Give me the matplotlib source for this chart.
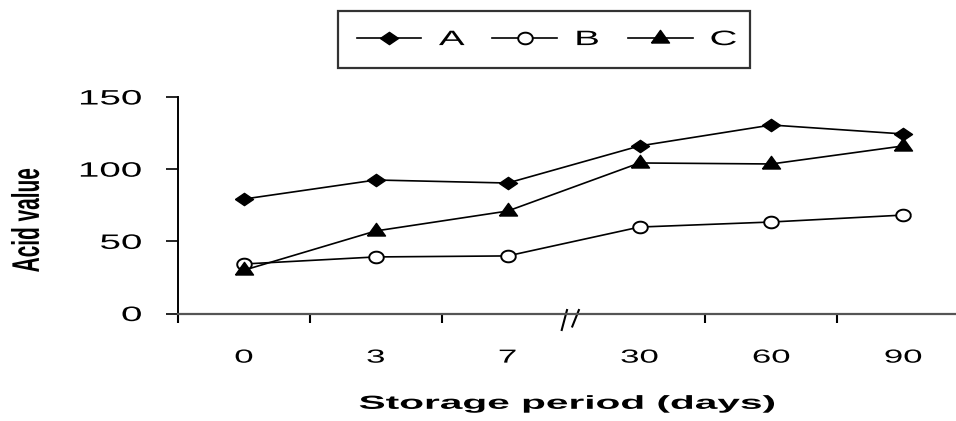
import numpy as np
import matplotlib.pyplot as plt
from matplotlib.lines import Line2D
from matplotlib.patheffects import AbstractPathEffect
from matplotlib.transforms import Affine2D

# ---------------------------------------------------------------------------
# Data
# ---------------------------------------------------------------------------
days = ['0', '3', '7', '30', '60', '90']
acid_A = [79.3, 92.5, 90.4, 116.1, 130.6, 124.4]
acid_B = [34.3, 39.2, 39.9, 59.9, 63.4, 68.2]
acid_C = [30.0, 57.2, 71.0, 104.3, 103.6, 116.1]

plt.rcParams['font.family'] = ['Liberation Sans', 'DejaVu Sans']


class Stretch(AbstractPathEffect):
    """Widen rendered text horizontally (the source image is stretched)."""

    def __init__(self, sx, anchor='center'):
        super().__init__()
        self.sx = sx
        self.anchor = anchor

    def draw_path(self, renderer, gc, tpath, affine, rgbFace=None):
        ext = tpath.get_extents(affine)
        cx = {'left': ext.x0, 'right': ext.x1,
              'center': 0.5 * (ext.x0 + ext.x1)}[self.anchor]
        a = affine + Affine2D().translate(-cx, 0).scale(self.sx, 1).translate(cx, 0)
        renderer.draw_path(gc, tpath, a, rgbFace)


# wide, flat markers to match the stretched look
m_diamond = [(-1, 0), (0, 0.68), (1, 0), (0, -0.68), (-1, 0)]
t = np.linspace(0, 2 * np.pi, 40)
m_ellipse = list(zip(np.cos(t), 0.8 * np.sin(t)))
m_triangle = [(-1, -0.5), (0, 0.9), (1, -0.5), (-1, -0.5)]

fig = plt.figure(figsize=(9.56, 4.21), dpi=100)
ax = fig.add_axes([0.18619, 0.2553, 0.81381, 0.5143])

x = np.arange(len(days))
ax.plot(x, acid_A, '-', color='black', lw=1.2, marker=m_diamond, ms=13,
        mfc='black', mec='black', label='A', clip_on=False, zorder=3)
ax.plot(x, acid_B, '-', color='black', lw=1.2, marker=m_ellipse, ms=10.5,
        mfc='white', mec='black', mew=1.4, label='B', clip_on=False, zorder=3)
ax.plot(x, acid_C, '-', color='black', lw=1.2, marker=m_triangle, ms=13,
        mfc='black', mec='black', label='C', clip_on=False, zorder=3)

ax.set_xlim(-0.5, 5.40)
ax.set_ylim(0, 150)

for s in ['top', 'right']:
    ax.spines[s].set_visible(False)
ax.spines['left'].set_color('black')
ax.spines['left'].set_linewidth(1.4)
ax.spines['bottom'].set_color('#555555')
ax.spines['bottom'].set_linewidth(1.6)

ax.set_yticks([0, 50, 100, 150])
ax.tick_params(axis='y', direction='out', length=9, width=1.2, labelsize=15,
               pad=17)
for lab in ax.get_yticklabels():
    lab.set_path_effects([Stretch(1.85, 'right')])

# category labels in the middle, tick marks on the boundaries (none at break)
ax.set_xticks(x)
ax.set_xticklabels(days)
ax.tick_params(axis='x', which='major', length=0, labelsize=13.6, pad=26)
for lab in ax.get_xticklabels():
    lab.set_path_effects([Stretch(1.84)])
ax.set_xticks([-0.5, 0.5, 1.5, 3.5, 4.5], minor=True)
ax.tick_params(axis='x', which='minor', direction='out', length=6.5,
               width=1.5, color='black')

# axis break marks
trans = ax.get_xaxis_transform()
ax.add_line(Line2D([2.41, 2.45], [-0.076, 0.016], color='black', lw=1.5,
                   transform=trans, clip_on=False))
ax.add_line(Line2D([2.49, 2.54], [-0.06, 0.016], color='black', lw=1.5,
                   transform=trans, clip_on=False))

xl = ax.set_xlabel('Storage period (days)', fontsize=13.6, fontweight='bold',
                   labelpad=21)
xl.set_path_effects([Stretch(2.15)])
yl = ax.set_ylabel('Acid value', fontsize=15, fontweight='bold', va='center')
ax.yaxis.set_label_coords(-0.194, 0.432)
yl.set_path_effects([Stretch(1.85)])

leg = fig.legend(loc='center', bbox_to_anchor=(0.569, 0.906), ncol=3,
                 fontsize=15, frameon=True, fancybox=False, handlelength=3.1,
                 handletextpad=1.12, columnspacing=1.62, borderpad=0.92,
                 borderaxespad=0)
leg.get_frame().set_edgecolor('black')
leg.get_frame().set_linewidth(1.6)
for txt in leg.get_texts():
    txt.set_path_effects([Stretch(1.85)])

fig.savefig('out.png', dpi=100)
